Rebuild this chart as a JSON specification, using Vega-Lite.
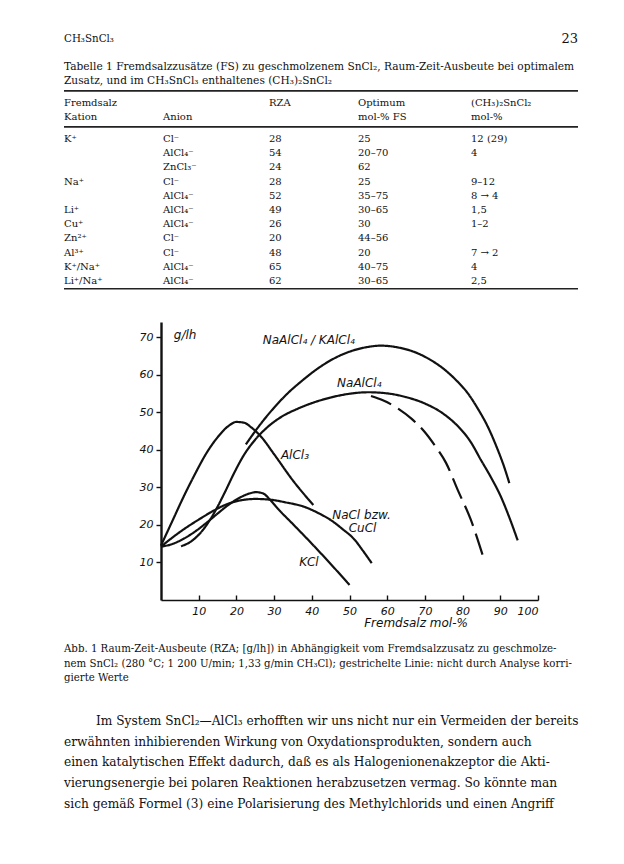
{
  "$schema": "https://vega.github.io/schema/vega-lite/v6.json",
  "background": "white",
  "padding": {"left": 63, "top": 0, "right": 0, "bottom": 0},
  "spacing": 0,
  "config": {"view": {"stroke": null}},
  "datasets": {
    "table": [
      {"part": "head", "line": 0, "col": 0, "text": "CH₃SnCl₃"},
      {"part": "page", "line": 0, "col": 5, "text": "23"},
      {"part": "cap", "line": 1, "col": 0, "text": "Tabelle 1   Fremdsalzzusätze (FS) zu geschmolzenem SnCl₂, Raum-Zeit-Ausbeute bei optimalem"},
      {"part": "cap", "line": 2, "col": 0, "text": "Zusatz, und im CH₃SnCl₃ enthaltenes (CH₃)₂SnCl₂"},
      {"part": "cell", "line": 3, "col": 0, "text": "Fremdsalz"},
      {"part": "cell", "line": 3, "col": 2, "text": "RZA"},
      {"part": "cell", "line": 3, "col": 3, "text": "Optimum"},
      {"part": "cell", "line": 3, "col": 4, "text": "(CH₃)₂SnCl₂"},
      {"part": "cell", "line": 4, "col": 0, "text": "Kation"},
      {"part": "cell", "line": 4, "col": 1, "text": "Anion"},
      {"part": "cell", "line": 4, "col": 3, "text": "mol-% FS"},
      {"part": "cell", "line": 4, "col": 4, "text": "mol-%"},
      {"part": "cell", "line": 5, "col": 0, "text": "K⁺"},
      {"part": "cell", "line": 5, "col": 1, "text": "Cl⁻"},
      {"part": "cell", "line": 5, "col": 2, "text": "28"},
      {"part": "cell", "line": 5, "col": 3, "text": "25"},
      {"part": "cell", "line": 5, "col": 4, "text": "12  (29)"},
      {"part": "cell", "line": 6, "col": 1, "text": "AlCl₄⁻"},
      {"part": "cell", "line": 6, "col": 2, "text": "54"},
      {"part": "cell", "line": 6, "col": 3, "text": "20–70"},
      {"part": "cell", "line": 6, "col": 4, "text": "4"},
      {"part": "cell", "line": 7, "col": 1, "text": "ZnCl₃⁻"},
      {"part": "cell", "line": 7, "col": 2, "text": "24"},
      {"part": "cell", "line": 7, "col": 3, "text": "62"},
      {"part": "cell", "line": 8, "col": 0, "text": "Na⁺"},
      {"part": "cell", "line": 8, "col": 1, "text": "Cl⁻"},
      {"part": "cell", "line": 8, "col": 2, "text": "28"},
      {"part": "cell", "line": 8, "col": 3, "text": "25"},
      {"part": "cell", "line": 8, "col": 4, "text": "9–12"},
      {"part": "cell", "line": 9, "col": 1, "text": "AlCl₄⁻"},
      {"part": "cell", "line": 9, "col": 2, "text": "52"},
      {"part": "cell", "line": 9, "col": 3, "text": "35–75"},
      {"part": "cell", "line": 9, "col": 4, "text": "8 → 4"},
      {"part": "cell", "line": 10, "col": 0, "text": "Li⁺"},
      {"part": "cell", "line": 10, "col": 1, "text": "AlCl₄⁻"},
      {"part": "cell", "line": 10, "col": 2, "text": "49"},
      {"part": "cell", "line": 10, "col": 3, "text": "30–65"},
      {"part": "cell", "line": 10, "col": 4, "text": "1,5"},
      {"part": "cell", "line": 11, "col": 0, "text": "Cu⁺"},
      {"part": "cell", "line": 11, "col": 1, "text": "AlCl₄⁻"},
      {"part": "cell", "line": 11, "col": 2, "text": "26"},
      {"part": "cell", "line": 11, "col": 3, "text": "30"},
      {"part": "cell", "line": 11, "col": 4, "text": "1–2"},
      {"part": "cell", "line": 12, "col": 0, "text": "Zn²⁺"},
      {"part": "cell", "line": 12, "col": 1, "text": "Cl⁻"},
      {"part": "cell", "line": 12, "col": 2, "text": "20"},
      {"part": "cell", "line": 12, "col": 3, "text": "44–56"},
      {"part": "cell", "line": 13, "col": 0, "text": "Al³⁺"},
      {"part": "cell", "line": 13, "col": 1, "text": "Cl⁻"},
      {"part": "cell", "line": 13, "col": 2, "text": "48"},
      {"part": "cell", "line": 13, "col": 3, "text": "20"},
      {"part": "cell", "line": 13, "col": 4, "text": "7 → 2"},
      {"part": "cell", "line": 14, "col": 0, "text": "K⁺/Na⁺"},
      {"part": "cell", "line": 14, "col": 1, "text": "AlCl₄⁻"},
      {"part": "cell", "line": 14, "col": 2, "text": "65"},
      {"part": "cell", "line": 14, "col": 3, "text": "40–75"},
      {"part": "cell", "line": 14, "col": 4, "text": "4"},
      {"part": "cell", "line": 15, "col": 0, "text": "Li⁺/Na⁺"},
      {"part": "cell", "line": 15, "col": 1, "text": "AlCl₄⁻"},
      {"part": "cell", "line": 15, "col": 2, "text": "62"},
      {"part": "cell", "line": 15, "col": 3, "text": "30–65"},
      {"part": "cell", "line": 15, "col": 4, "text": "2,5"}
    ],
    "rules": [{"line": 2.45}, {"line": 4.45}, {"line": 15.55}],
    "curves": [
      {"series": "AlCl3", "x": 0, "y": 14.5}, {"series": "AlCl3", "x": 3, "y": 21}, {"series": "AlCl3", "x": 6, "y": 27.5}, {"series": "AlCl3", "x": 9, "y": 33.5}, {"series": "AlCl3", "x": 12, "y": 39}, {"series": "AlCl3", "x": 15, "y": 43.3}, {"series": "AlCl3", "x": 18, "y": 46.4}, {"series": "AlCl3", "x": 20, "y": 47.4}, {"series": "AlCl3", "x": 22, "y": 47.2}, {"series": "AlCl3", "x": 24, "y": 45.9}, {"series": "AlCl3", "x": 26.6, "y": 43.4}, {"series": "AlCl3", "x": 30, "y": 38.8}, {"series": "AlCl3", "x": 35, "y": 31.8}, {"series": "AlCl3", "x": 40.4, "y": 25.3},
      {"series": "NaAlCl4/KAlCl4", "x": 22.5, "y": 41.4}, {"series": "NaAlCl4/KAlCl4", "x": 26, "y": 46.3}, {"series": "NaAlCl4/KAlCl4", "x": 30, "y": 51.2}, {"series": "NaAlCl4/KAlCl4", "x": 34, "y": 55.4}, {"series": "NaAlCl4/KAlCl4", "x": 37.1, "y": 58.1}, {"series": "NaAlCl4/KAlCl4", "x": 41, "y": 61.2}, {"series": "NaAlCl4/KAlCl4", "x": 45, "y": 63.8}, {"series": "NaAlCl4/KAlCl4", "x": 50, "y": 66.1}, {"series": "NaAlCl4/KAlCl4", "x": 54, "y": 67.2}, {"series": "NaAlCl4/KAlCl4", "x": 58.4, "y": 67.7}, {"series": "NaAlCl4/KAlCl4", "x": 63, "y": 67.2}, {"series": "NaAlCl4/KAlCl4", "x": 67, "y": 66.1}, {"series": "NaAlCl4/KAlCl4", "x": 71, "y": 64.2}, {"series": "NaAlCl4/KAlCl4", "x": 75, "y": 61.5}, {"series": "NaAlCl4/KAlCl4", "x": 78.5, "y": 58.3}, {"series": "NaAlCl4/KAlCl4", "x": 81.4, "y": 55}, {"series": "NaAlCl4/KAlCl4", "x": 84, "y": 51}, {"series": "NaAlCl4/KAlCl4", "x": 86.7, "y": 46.1}, {"series": "NaAlCl4/KAlCl4", "x": 89, "y": 40.8}, {"series": "NaAlCl4/KAlCl4", "x": 91, "y": 35.5}, {"series": "NaAlCl4/KAlCl4", "x": 92.4, "y": 31.1},
      {"series": "NaAlCl4", "x": 5.3, "y": 14.3}, {"series": "NaAlCl4", "x": 8, "y": 15.6}, {"series": "NaAlCl4", "x": 11, "y": 18.5}, {"series": "NaAlCl4", "x": 14, "y": 23}, {"series": "NaAlCl4", "x": 17, "y": 28.8}, {"series": "NaAlCl4", "x": 19.5, "y": 34}, {"series": "NaAlCl4", "x": 22, "y": 38.6}, {"series": "NaAlCl4", "x": 25, "y": 42.7}, {"series": "NaAlCl4", "x": 28, "y": 45.8}, {"series": "NaAlCl4", "x": 32, "y": 48.8}, {"series": "NaAlCl4", "x": 36, "y": 50.8}, {"series": "NaAlCl4", "x": 40, "y": 52.4}, {"series": "NaAlCl4", "x": 45, "y": 53.9}, {"series": "NaAlCl4", "x": 50, "y": 54.9}, {"series": "NaAlCl4", "x": 55, "y": 55.3}, {"series": "NaAlCl4", "x": 60, "y": 55}, {"series": "NaAlCl4", "x": 65, "y": 54}, {"series": "NaAlCl4", "x": 70, "y": 52.3}, {"series": "NaAlCl4", "x": 75, "y": 49.5}, {"series": "NaAlCl4", "x": 79, "y": 46}, {"series": "NaAlCl4", "x": 82, "y": 42.3}, {"series": "NaAlCl4", "x": 84.9, "y": 37.2}, {"series": "NaAlCl4", "x": 87.5, "y": 32.7}, {"series": "NaAlCl4", "x": 90.2, "y": 27.4}, {"series": "NaAlCl4", "x": 92.5, "y": 21.7}, {"series": "NaAlCl4", "x": 94.6, "y": 15.9},
      {"series": "NaAlCl4 unkorrigiert", "x": 55.7, "y": 54.3}, {"series": "NaAlCl4 unkorrigiert", "x": 59, "y": 53.1}, {"series": "NaAlCl4 unkorrigiert", "x": 62.8, "y": 51}, {"series": "NaAlCl4 unkorrigiert", "x": 66.5, "y": 48.2}, {"series": "NaAlCl4 unkorrigiert", "x": 69.9, "y": 44.8}, {"series": "NaAlCl4 unkorrigiert", "x": 73, "y": 40.6}, {"series": "NaAlCl4 unkorrigiert", "x": 75.6, "y": 36.5}, {"series": "NaAlCl4 unkorrigiert", "x": 78.7, "y": 29.3}, {"series": "NaAlCl4 unkorrigiert", "x": 82.2, "y": 21.3}, {"series": "NaAlCl4 unkorrigiert", "x": 85.3, "y": 12},
      {"series": "NaCl/CuCl", "x": 0, "y": 14.2}, {"series": "NaCl/CuCl", "x": 3, "y": 16.6}, {"series": "NaCl/CuCl", "x": 6, "y": 18.8}, {"series": "NaCl/CuCl", "x": 10, "y": 21.4}, {"series": "NaCl/CuCl", "x": 13.3, "y": 23.4}, {"series": "NaCl/CuCl", "x": 17, "y": 25.3}, {"series": "NaCl/CuCl", "x": 21, "y": 26.5}, {"series": "NaCl/CuCl", "x": 25, "y": 26.9}, {"series": "NaCl/CuCl", "x": 29, "y": 26.7}, {"series": "NaCl/CuCl", "x": 33, "y": 26}, {"series": "NaCl/CuCl", "x": 38, "y": 24.8}, {"series": "NaCl/CuCl", "x": 42, "y": 23}, {"series": "NaCl/CuCl", "x": 45, "y": 21.3}, {"series": "NaCl/CuCl", "x": 48, "y": 19}, {"series": "NaCl/CuCl", "x": 51.4, "y": 16}, {"series": "NaCl/CuCl", "x": 53.5, "y": 13.2}, {"series": "NaCl/CuCl", "x": 55.9, "y": 9.8},
      {"series": "KCl", "x": 0, "y": 14.2}, {"series": "KCl", "x": 3, "y": 14.9}, {"series": "KCl", "x": 6, "y": 16.3}, {"series": "KCl", "x": 9, "y": 18.2}, {"series": "KCl", "x": 12, "y": 20.5}, {"series": "KCl", "x": 15, "y": 23}, {"series": "KCl", "x": 18, "y": 25.4}, {"series": "KCl", "x": 21, "y": 27.3}, {"series": "KCl", "x": 23, "y": 28.2}, {"series": "KCl", "x": 25.2, "y": 28.7}, {"series": "KCl", "x": 27, "y": 28.4}, {"series": "KCl", "x": 29, "y": 26.6}, {"series": "KCl", "x": 31, "y": 24.3}, {"series": "KCl", "x": 35, "y": 20.2}, {"series": "KCl", "x": 40, "y": 15}, {"series": "KCl", "x": 45, "y": 9.6}, {"series": "KCl", "x": 50, "y": 4}
    ],
    "labels": [
      {"x": 3.4, "y": 70.5, "label": "g/lh"},
      {"x": 27, "y": 69.2, "label": "NaAlCl₄ / KAlCl₄"},
      {"x": 46.7, "y": 57.8, "label": "NaAlCl₄"},
      {"x": 31.8, "y": 38.6, "label": "AlCl₃"},
      {"x": 45.4, "y": 22.5, "label": "NaCl bzw."},
      {"x": 49.8, "y": 19.1, "label": "CuCl"},
      {"x": 36.7, "y": 10.2, "label": "KCl"},
      {"x": 53.9, "y": -6.2, "label": "Fremdsalz  mol-%"}
    ],
    "text": [
      {"part": "caption", "line": 0, "col": 0, "text": "Abb. 1   Raum-Zeit-Ausbeute (RZA; [g/lh]) in Abhängigkeit vom Fremdsalzzusatz zu geschmolze-"},
      {"part": "caption", "line": 1, "col": 0, "text": "nem SnCl₂ (280 °C; 1 200 U/min; 1,33 g/min CH₃Cl); gestrichelte Linie: nicht durch Analyse korri-"},
      {"part": "caption", "line": 2, "col": 0, "text": "gierte Werte"},
      {"part": "body", "line": 3, "col": 1, "text": "Im System SnCl₂—AlCl₃ erhofften wir uns nicht nur ein Vermeiden der bereits"},
      {"part": "body", "line": 4, "col": 0, "text": "erwähnten inhibierenden Wirkung von Oxydationsprodukten, sondern auch"},
      {"part": "body", "line": 5, "col": 0, "text": "einen katalytischen Effekt dadurch, daß es als Halogenionenakzeptor die Akti-"},
      {"part": "body", "line": 6, "col": 0, "text": "vierungsenergie bei polaren Reaktionen herabzusetzen vermag. So könnte man"},
      {"part": "body", "line": 7, "col": 0, "text": "sich gemäß Formel (3) eine Polarisierung des Methylchlorids und einen Angriff"}
    ]
  },
  "vconcat": [
    {
      "width": 417,
      "height": 322,
      "layer": [
        {
          "data": {"name": "table"},
          "transform": [{"filter": "datum.part === 'head'"}],
          "mark": {"type": "text", "align": "left", "baseline": "middle", "font": "DejaVu Serif", "fontSize": 10.3, "color": "#111"},
          "encoding": {
            "x": {"field": "col", "type": "quantitative", "scale": {"domain": [0, 1, 2, 3, 4, 5], "range": [-97, 2, 108, 197, 310, 417], "nice": false, "zero": false}, "axis": null},
            "y": {"field": "line", "type": "quantitative", "scale": {"domain": [0, 1, 2, 3, 4, 5, 15], "range": [39, 67, 81, 103, 117, 139, 281], "nice": false, "zero": false}, "axis": null},
            "text": {"field": "text"}
          }
        },
        {
          "data": {"name": "table"},
          "transform": [{"filter": "datum.part === 'page'"}],
          "mark": {"type": "text", "align": "right", "baseline": "middle", "font": "DejaVu Serif", "fontSize": 13, "color": "#111"},
          "encoding": {
            "x": {"field": "col", "type": "quantitative", "axis": null},
            "y": {"field": "line", "type": "quantitative", "axis": null},
            "text": {"field": "text"}
          }
        },
        {
          "data": {"name": "table"},
          "transform": [{"filter": "datum.part === 'cap'"}],
          "mark": {"type": "text", "align": "left", "baseline": "middle", "font": "DejaVu Serif", "fontSize": 10.6, "color": "#111"},
          "encoding": {
            "x": {"field": "col", "type": "quantitative", "axis": null},
            "y": {"field": "line", "type": "quantitative", "axis": null},
            "text": {"field": "text"}
          }
        },
        {
          "data": {"name": "table"},
          "transform": [{"filter": "datum.part === 'cell'"}],
          "mark": {"type": "text", "align": "left", "baseline": "middle", "font": "DejaVu Serif", "fontSize": 10, "color": "#111"},
          "encoding": {
            "x": {"field": "col", "type": "quantitative", "axis": null},
            "y": {"field": "line", "type": "quantitative", "axis": null},
            "text": {"field": "text"}
          }
        },
        {
          "data": {"name": "rules"},
          "mark": {"type": "rule", "strokeWidth": 1.6, "color": "#222"},
          "encoding": {
            "x": {"datum": 0, "type": "quantitative"},
            "x2": {"datum": 5},
            "y": {"field": "line", "type": "quantitative", "axis": null}
          }
        }
      ]
    },
    {
      "width": 377,
      "height": 278,
      "layer": [
        {
          "data": {"name": "curves"},
          "mark": {"type": "line", "strokeWidth": 2.2, "color": "#111", "strokeCap": "butt", "interpolate": "monotone"},
          "encoding": {
            "x": {"field": "x", "type": "quantitative", "scale": {"domain": [0, 100], "nice": false, "zero": false},
              "axis": {"values": [10, 20, 30, 40, 50, 60, 70, 80, 90, 100], "title": null, "grid": false, "domainColor": "#111", "domainWidth": 1.6, "tickColor": "#111", "tickWidth": 1.4, "tickSize": -5, "labelPadding": 10, "labelFont": "DejaVu Sans", "labelFontStyle": "italic", "labelFontSize": 11, "labelColor": "#111"}},
            "y": {"field": "y", "type": "quantitative", "scale": {"domain": [0, 74], "nice": false, "zero": false},
              "axis": {"values": [10, 20, 30, 40, 50, 60, 70], "title": null, "grid": false, "domainColor": "#111", "domainWidth": 2.4, "tickColor": "#111", "tickWidth": 1.4, "tickSize": 5, "labelPadding": 3, "labelFont": "DejaVu Sans", "labelFontStyle": "italic", "labelFontSize": 11, "labelColor": "#111"}},
            "detail": {"field": "series", "type": "nominal"},
            "strokeDash": {"field": "series", "type": "nominal", "legend": null,
              "scale": {"domain": ["AlCl3", "NaAlCl4/KAlCl4", "NaAlCl4", "NaAlCl4 unkorrigiert", "NaCl/CuCl", "KCl"], "range": [[1, 0], [1, 0], [1, 0], [22, 8], [1, 0], [1, 0]]}}
          }
        },
        {
          "data": {"name": "labels"},
          "mark": {"type": "text", "align": "left", "baseline": "middle", "font": "DejaVu Sans", "fontStyle": "italic", "fontSize": 12, "color": "#111"},
          "encoding": {
            "x": {"field": "x", "type": "quantitative"},
            "y": {"field": "y", "type": "quantitative"},
            "text": {"field": "label"}
          }
        }
      ]
    },
    {
      "width": 417,
      "height": 190,
      "layer": [
        {
          "data": {"name": "text"},
          "transform": [{"filter": "datum.part === 'caption'"}],
          "mark": {"type": "text", "align": "left", "baseline": "middle", "font": "DejaVu Serif", "fontSize": 10.2, "color": "#111"},
          "encoding": {
            "x": {"field": "col", "type": "quantitative", "scale": {"domain": [0, 1, 2], "range": [-97, -65, 417], "nice": false, "zero": false}, "axis": null},
            "y": {"field": "line", "type": "quantitative", "scale": {"domain": [0, 2, 3, 7], "range": [19, 48, 91, 173.5], "nice": false, "zero": false}, "axis": null},
            "text": {"field": "text"}
          }
        },
        {
          "data": {"name": "text"},
          "transform": [{"filter": "datum.part === 'body'"}],
          "mark": {"type": "text", "align": "left", "baseline": "middle", "font": "DejaVu Serif", "fontSize": 12.2, "color": "#111"},
          "encoding": {
            "x": {"field": "col", "type": "quantitative", "axis": null},
            "y": {"field": "line", "type": "quantitative", "axis": null},
            "text": {"field": "text"}
          }
        }
      ]
    }
  ]
}
